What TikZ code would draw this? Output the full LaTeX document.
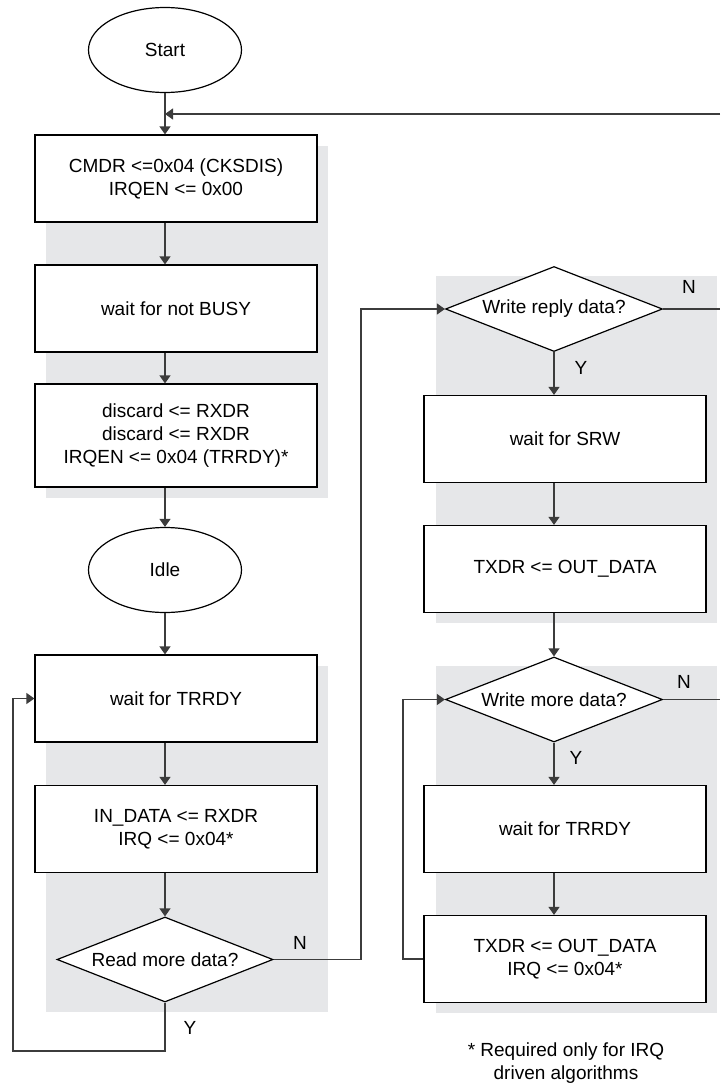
\documentclass[tikz,border=0pt]{standalone}
\usepackage{fontspec}
\setmainfont{Liberation Sans}
\usetikzlibrary{positioning, shapes, arrows.meta}

\definecolor{panelgray}{HTML}{E6E7E9}
\definecolor{linegray}{HTML}{3C3C3C}

\begin{document}
\begin{tikzpicture}[
    x=0.5pt, y=-0.5pt,
    every node/.style={align=center,font=\fontsize{9.5}{11.5}\selectfont},
    procbox/.style={draw=black, line width=0.6pt, fill=white, rectangle,
        minimum width=141pt, minimum height=43.5pt, inner sep=2pt},
    termnode/.style={draw=black, line width=0.6pt, fill=white, ellipse,
        minimum width=76.5pt, minimum height=42.5pt, inner sep=1pt},
    decnode/.style={draw=black, line width=0.6pt, fill=white, diamond,
        aspect=2.5, minimum width=108.5pt, minimum height=42.5pt, inner sep=0pt},
    panel/.style={fill=panelgray, draw=none},
    conn/.style={draw=linegray, line width=0.6pt, -{Triangle[length=4pt,width=5.5pt]}},
    wire/.style={draw=linegray, line width=0.6pt},
    >=Latex
]
    \useasboundingbox (0,0) rectangle (720,1087);

    % grey panels behind the groups
    \foreach \xa/\ya/\xb/\yb in {46/146/328/498, 46/666/328/1012,
        436/276/717/623, 436/666/717/1013}{
        \fill[panelgray] (\xa,\ya) rectangle (\xb,\yb);
    }

    % left column
    \node[termnode] (start) at (165,50) {Start};
    \node[procbox] (cmdr) at (176,178.5) {CMDR <=0x04 (CKSDIS)\\IRQEN <= 0x00};
    \node[procbox] (busy) at (176,308.5) {wait for not BUSY};
    \node[procbox, minimum height=51.5pt] (discard) at (176,435.5)
        {discard <= RXDR\\discard <= RXDR\\IRQEN <= 0x04 (TRRDY)*};
    \node[termnode] (idle) at (165,570) {Idle};
    \node[procbox] (trrdyL) at (176,698.5) {wait for TRRDY};
    \node[procbox] (indata) at (176,829) {IN\_DATA <= RXDR\\IRQ <= 0x04*};
    \node[decnode, minimum width=108pt] (readq) at (165,959.5) {Read more data?};

    % right column
    \node[decnode] (wreply) at (554,309) {Write reply data?};
    \node[procbox] (srw) at (565,439) {wait for SRW};
    \node[procbox] (txdr) at (565,569) {TXDR <= OUT\_DATA};
    \node[decnode] (wmore) at (554,699.5) {Write more data?};
    \node[procbox] (trrdyR) at (565,829) {wait for TRRDY};
    \node[procbox] (txdrirq) at (565,959) {TXDR <= OUT\_DATA\\IRQ <= 0x04*};

    % branch labels
    \node (nread) at (300,943) {N};
    \node (yread) at (190,1028) {Y};
    \node (nreply) at (689,287) {N};
    \node (yreply) at (581,368) {Y};
    \node (nmore) at (684,682) {N};
    \node (ymore) at (576,758) {Y};

    \node (note) at (566,1063) {* Required only for IRQ\\driven algorithms};

    % loose ends and bends
    \coordinate (topin) at (720,114);
    \coordinate (merge) at (165,114);
    \coordinate (nbus) at (361,309);
    \coordinate (yloopL) at (13,1051);
    \coordinate (yloopR) at (403,959);
    \coordinate (outreply) at (720,309);
    \coordinate (outmore) at (720,699.5);

    % left flow
    \draw[conn] (start) -- (cmdr.north -| start);
    \draw[conn] (topin) -- (merge);
    \draw[conn] (cmdr.south -| start) -- (busy.north -| start);
    \draw[conn] (busy.south -| start) -- (discard.north -| start);
    \draw[conn] (discard.south -| idle) -- (idle);
    \draw[conn] (idle) -- (trrdyL.north -| idle);
    \draw[conn] (trrdyL.south -| idle) -- (indata.north -| idle);
    \draw[conn] (indata.south -| readq) -- (readq);
    \draw[conn] (readq.south) |- (yloopL) |- (trrdyL.west);
    \draw[conn] (readq.east) -| (nbus) -- (wreply.west);

    % right flow
    \draw[wire] (wreply.east) -- (outreply);
    \draw[conn] (wreply.south) -- (srw.north -| wreply);
    \draw[conn] (srw.south -| wreply) -- (txdr.north -| wreply);
    \draw[conn] (txdr.south -| wmore) -- (wmore.north);
    \draw[wire] (wmore.east) -- (outmore);
    \draw[conn] (wmore.south) -- (trrdyR.north -| wmore);
    \draw[conn] (trrdyR.south -| wmore) -- (txdrirq.north -| wmore);
    \draw[conn] (txdrirq.west) -- (yloopR) |- (wmore.west);
\end{tikzpicture}
\end{document}
